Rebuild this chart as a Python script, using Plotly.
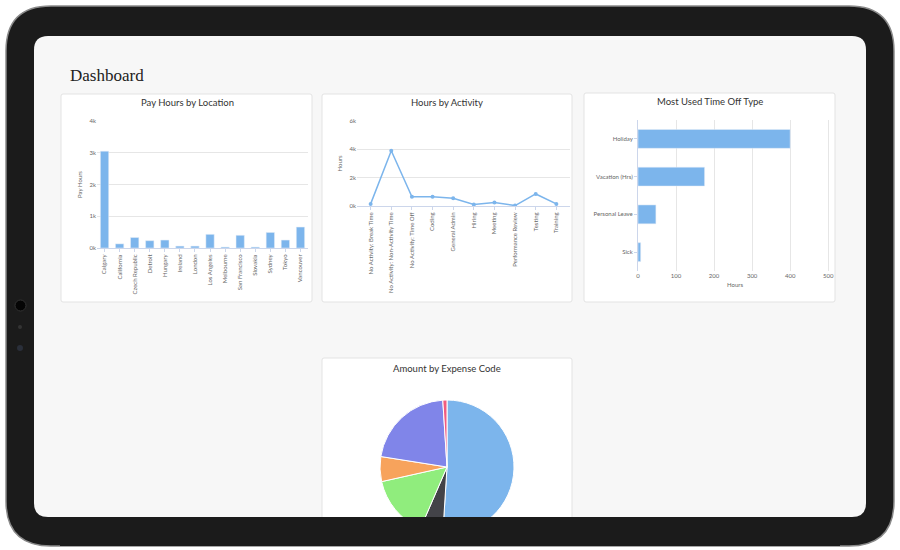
import plotly.graph_objects as go

W, H = 900, 550

locations = ["Calgary", "California", "Czech Republic", "Detroit", "Hungary", "Ireland", "London",
             "Los Angeles", "Melbourne", "San Francisco", "Slovakia", "Sydney", "Tokyo", "Vancouver"]
pay_hours = [3050, 130, 330, 230, 250, 60, 60, 430, 30, 400, 30, 490, 250, 660]

activities = ["No Activity: Break Time", "No Activity: Non-Activity Time", "No Activity: Time Off",
              "Coding", "General Admin", "Hiring", "Meeting", "Performance Review", "Testing", "Training"]
activity_hours = [150, 3900, 650, 650, 550, 100, 250, 30, 850, 150]

timeoff_types = ["Holiday", "Vacation (Hrs)", "Personal Leave", "Sick"]
timeoff_hours = [400, 175, 47, 7]

expense_codes = ["Code A", "Code B", "Code C", "Code D", "Code E", "Code F"]
expense_amounts = [51, 5.5, 15, 6, 21.5, 1]
expense_colors = ["#7cb5ec", "#434348", "#90ed7d", "#f7a35c", "#8085e9", "#f15c80"]

BLUE = "#7cb5ec"
FONT = "Lato"


def px(x):
    return x / W


def py(y):
    return 1 - y / H


def rrect(x0, y0, x1, y1, r, fill, line="rgba(0,0,0,0)", lw=0, layer="below"):
    X0, X1 = px(x0), px(x1)
    Y0, Y1 = py(y0), py(y1)
    rx, ry = r / W, r / H
    path = (f"M {X0+rx},{Y0} L {X1-rx},{Y0} Q {X1},{Y0} {X1},{Y0-ry} "
            f"L {X1},{Y1+ry} Q {X1},{Y1} {X1-rx},{Y1} L {X0+rx},{Y1} "
            f"Q {X0},{Y1} {X0},{Y1+ry} L {X0},{Y0-ry} Q {X0},{Y0} {X0+rx},{Y0} Z")
    return dict(type="path", xref="paper", yref="paper", path=path, fillcolor=fill,
                line=dict(color=line, width=lw), layer=layer)


fig = go.Figure()

fig.add_trace(go.Bar(x=locations, y=pay_hours, marker_color=BLUE, width=0.55,
                     xaxis="x", yaxis="y"))
fig.add_trace(go.Scatter(x=activities, y=activity_hours, mode="lines+markers",
                         line=dict(color=BLUE, width=1.5), marker=dict(size=4, color=BLUE),
                         xaxis="x2", yaxis="y2"))
fig.add_trace(go.Bar(x=timeoff_hours, y=timeoff_types, orientation="h", marker_color=BLUE,
                     width=0.5, xaxis="x3", yaxis="y3"))
fig.add_trace(go.Pie(labels=expense_codes, values=expense_amounts, sort=False, direction="clockwise",
                     rotation=0, textinfo="none", hoverinfo="label+percent",
                     marker=dict(colors=expense_colors, line=dict(color="white", width=1)),
                     domain=dict(x=[px(380), px(514)], y=[py(543), py(391)])))

tick = dict(family=FONT, size=6, color="#666")
grid = "#e6e6e6"
common_x = dict(showgrid=False, tickangle=-90, tickfont=tick, showline=True, linecolor="#ccd6eb",
                ticks="outside", ticklen=3, tickcolor="#ccd6eb", automargin=False)
fig.update_layout(
    width=W, height=H, margin=dict(l=0, r=0, t=0, b=0, autoexpand=False), showlegend=False,
    paper_bgcolor="white", plot_bgcolor="rgba(0,0,0,0)", bargap=0.3,
    xaxis=dict(domain=[px(97), px(308)], anchor="y", **common_x),
    yaxis=dict(domain=[py(248), py(121)], anchor="x", range=[0, 4000], tickvals=[0, 1000, 2000, 3000, 4000],
               ticktext=["0k", "1k", "2k", "3k", "4k"], gridcolor=grid, tickfont=tick, zeroline=False,
               automargin=False, title=dict(text="Pay Hours", font=tick, standoff=6)),
    xaxis2=dict(domain=[px(357), px(570)], anchor="y2", **common_x),
    yaxis2=dict(domain=[py(206), py(121)], anchor="x2", range=[0, 6000], tickvals=[0, 2000, 4000, 6000],
                ticktext=["0k", "2k", "4k", "6k"], gridcolor=grid, tickfont=tick, zeroline=False,
                automargin=False, title=dict(text="Hours", font=tick, standoff=6)),
    xaxis3=dict(domain=[px(638), px(832)], anchor="y3", range=[0, 510], tickvals=[0, 100, 200, 300, 400, 500],
                gridcolor=grid, tickfont=tick, zeroline=False, automargin=False,
                title=dict(text="Hours", font=tick, standoff=4)),
    yaxis3=dict(domain=[py(271), py(120)], anchor="x3", autorange="reversed", tickfont=tick,
                automargin=False, showline=True, linecolor="#ccd6eb", ticks="outside", ticklen=3,
                tickcolor="#ccd6eb"),
)

shapes = [
    rrect(6, 6, 894, 546, 45, "#1b1b1b", "#8a8a8a", 1.5),
    rrect(34, 36, 866, 517, 14, "#f7f7f7"),
    rrect(61, 94, 312, 302, 2, "white", "#e3e3e3", 1),
    rrect(322, 94, 572, 302, 2, "white", "#e3e3e3", 1),
    rrect(584, 93, 835, 302, 2, "white", "#e3e3e3", 1),
    rrect(322, 358, 572, 540, 2, "white", "#e3e3e3", 1),
    # bottom bezel covering the pie bottom
    dict(type="path", xref="paper", yref="paper", layer="above", fillcolor="#1b1b1b",
         line=dict(width=0),
         path=f"M {px(60)},{py(517)} L {px(840)},{py(517)} L {px(840)},{py(546)} L {px(60)},{py(546)} Z"),
    dict(type="circle", xref="paper", yref="paper", x0=px(15), x1=px(26), y0=py(300), y1=py(311),
         fillcolor="#050505", line=dict(color="#333", width=1)),
    dict(type="circle", xref="paper", yref="paper", x0=px(18), x1=px(22), y0=py(325), y1=py(329),
         fillcolor="#333", line=dict(width=0)),
    dict(type="circle", xref="paper", yref="paper", x0=px(17), x1=px(23), y0=py(345), y1=py(351),
         fillcolor="#2a2f3a", line=dict(width=0)),
]
fig.update_layout(shapes=shapes)

title_font = dict(family=FONT, size=9.5, color="#333")
for text, x, y in [("Pay Hours by Location", 187, 103), ("Hours by Activity", 447, 103),
                   ("Most Used Time Off Type", 710, 102), ("Amount by Expense Code", 447, 368)]:
    fig.add_annotation(text=text, x=px(x), y=py(y), xref="paper", yref="paper", showarrow=False,
                       xanchor="center", yanchor="middle", font=title_font)
fig.add_annotation(text="Dashboard", x=px(68), y=py(75), xref="paper", yref="paper", showarrow=False,
                   xanchor="left", yanchor="middle",
                   font=dict(family="Liberation Serif", size=17, color="#222"))

fig.write_html("out.html", config={"displayModeBar": False},
               post_script="document.body.style.margin='0';document.body.style.overflow='hidden';")
